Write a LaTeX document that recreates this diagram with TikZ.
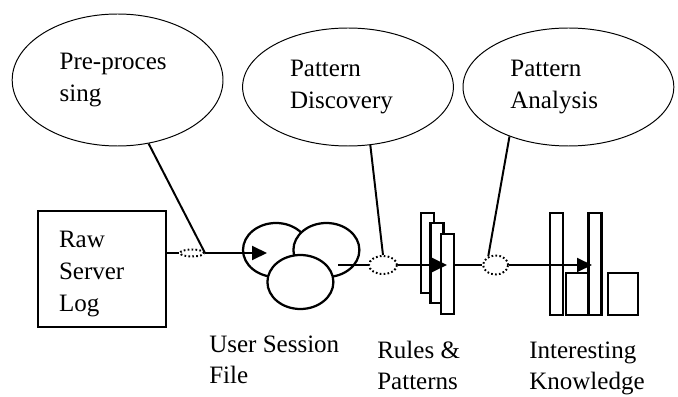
\documentclass[tikz,border=0pt]{standalone}
\usepackage{fontspec}
\setmainfont{Liberation Serif}
\usetikzlibrary{shapes.geometric, arrows.meta, positioning}

\begin{document}
\begin{tikzpicture}[
    font=\fontsize{17.8}{22.8}\selectfont,
    stage/.style={draw, ellipse, line width=0.7pt, minimum width=5.27cm, minimum height=2.95cm, text width=2.9cm, align=left, inner sep=0pt},
    logbox/.style={draw, line width=1.8pt, minimum width=3.2cm, minimum height=2.9cm, text width=2.15cm, align=left, inner sep=0pt},
    session/.style={draw, ellipse, fill=white, line width=1.6pt, minimum width=1.65cm, minimum height=1.35cm, inner sep=0pt},
    bar/.style={draw, fill=white, line width=1.8pt, minimum width=0.325cm, minimum height=2cm, inner sep=0pt},
    block/.style={draw, fill=white, line width=1.8pt, minimum height=1.05cm, inner sep=0pt},
    gap/.style={draw, ellipse, dash pattern=on 1.2pt off 1.6pt, line width=1.4pt, inner sep=0pt},
    caption/.style={anchor=north west, align=left, inner sep=0pt, font=\fontsize{17.8}{22}\selectfont},
    link/.style={line width=1.4pt},
    flow/.style={link, -{Triangle[length=0.375cm, width=0.35cm]}}
]
    \useasboundingbox (0,0) rectangle (16.95,9.9);

    % processing stages
    \node[stage, minimum height=3.3cm] (prep) at (2.94, 7.9) {Pre-proces\\sing};
    \node[stage] (disc) at (8.7, 7.725) {Pattern\\Discovery};
    \node[stage] (anal) at (14.21, 7.725) {Pattern\\Analysis};

    % raw data
    \node[logbox] (log) at (2.55, 3.175) {\rule{0pt}{0.68cm}Raw\\Server\\Log};

    % session file
    \node[session] (sessA) at (6.9, 3.65) {};
    \node[session] (sessB) at (8.16, 3.65) {};
    \node[session] (sessC) at (7.51, 2.85) {};
    \node[caption] (sessT) at (5.225, 1.5) {User Session\\File};

    % rules and patterns
    \node[bar] (rule1) at (10.69, 3.575) {};
    \node[bar] (rule2) at (10.925, 3.325) {};
    \node[bar] (rule3) at (11.19, 3.05) {};
    \node[caption] (ruleT) at (9.425, 1.375) {Rules \&\\Patterns};

    % knowledge
    \node[bar, minimum height=2.55cm] (know1) at (13.91, 3.3) {};
    \node[block, minimum width=0.55cm] (know2) at (14.425, 2.55) {};
    \node[bar, minimum height=2.55cm] (know3) at (14.875, 3.3) {};
    \node[block, minimum width=0.75cm] (know4) at (15.575, 2.55) {};
    \node[caption] (knowT) at (13.225, 1.36) {Interesting\\Knowledge};

    % dotted joints
    \node[gap, minimum width=0.6cm, minimum height=0.175cm] (cut1) at (4.8, 3.575) {};
    \node[gap, minimum width=0.7cm, minimum height=0.45cm] (cut2) at (9.575, 3.275) {};
    \node[gap, minimum width=0.625cm, minimum height=0.475cm] (cut3) at (12.39, 3.275) {};

    \coordinate (in1) at (6.675, 3.575);
    \coordinate (out1) at (8.45, 3.275);
    \coordinate (in2) at (11.175, 3.275);
    \coordinate (in3) at (14.8, 3.275);

    \draw[link] (log.east |- cut1) -- (cut1.west);
    \draw[flow] (cut1.east) -- (in1);
    \draw[link] (out1) -- (cut2.west);
    \draw[flow] (cut2.east) -- (in2);
    \draw[link] (rule3.east |- cut3) -- (cut3.west);
    \draw[flow] (cut3.east) -- (in3);

    \draw[link] (prep.-64) -- (cut1.east);
    \draw[link] (disc.-69) -- (cut2.north);
    \draw[link] (anal.-140) -- (cut3.130);
\end{tikzpicture}
\end{document}
